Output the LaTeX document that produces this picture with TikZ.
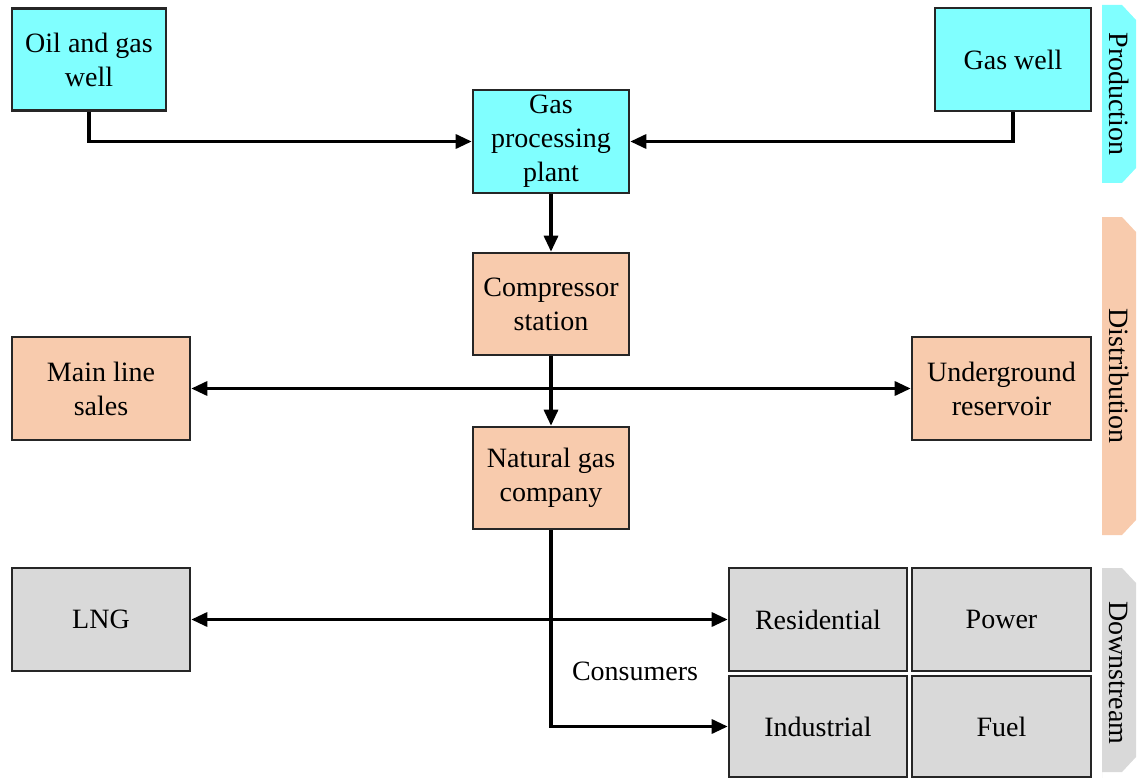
\documentclass[tikz,border=0pt]{standalone}
\usepackage{fontspec}
\setmainfont{Liberation Serif}
\usetikzlibrary{arrows.meta}
\definecolor{prodcol}{HTML}{80FFFF}
\definecolor{distcol}{HTML}{F8CBAD}
\definecolor{downcol}{HTML}{D9D9D9}
\definecolor{edgecol}{HTML}{262626}
\begin{document}
\begin{tikzpicture}[x=1pt,y=-1pt,
  font=\fontsize{28}{34}\selectfont,
  box/.style={draw=edgecol,line width=2.6pt,inner sep=0pt,align=center},
  prodbox/.style={box,fill=prodcol},
  distbox/.style={box,fill=distcol},
  downbox/.style={box,fill=downcol},
  conn/.style={line width=3.2pt,black,-{Triangle[length=16pt,width=14pt]}},
  bconn/.style={line width=3.2pt,black,{Triangle[length=16pt,width=14pt]}-{Triangle[length=16pt,width=14pt]}},
  tablabel/.style={rotate=-90,inner sep=0pt}]
\useasboundingbox (0,0) rectangle (1137,778);

% stage tabs on the right
\fill[prodcol] (1102,5) -- (1122,5) -- (1136,20) -- (1136,168) -- (1122,183) -- (1102,183) -- cycle;
\fill[distcol] (1102,217) -- (1122,217) -- (1136,232) -- (1136,520) -- (1122,535) -- (1102,535) -- cycle;
\fill[downcol] (1102,568) -- (1122,568) -- (1136,583) -- (1136,757) -- (1122,772) -- (1102,772) -- (1102,778) -- cycle;
\node[tablabel] (tprod) at (1119,94) {Production};
\node[tablabel] (tdist) at (1119,376) {Distribution};
\node[tablabel] (tdown) at (1119,673) {Downstream};

% production
\node[prodbox,minimum width=154pt,minimum height=102pt] (oil) at (89,59.5) {Oil and gas\\well};
\node[prodbox,minimum width=156pt,minimum height=103pt] (gw) at (1013,59.5) {Gas well};
\node[prodbox,minimum width=156pt,minimum height=103pt] (gpp) at (551,141.5) {Gas\\processing\\plant};

% distribution
\node[distbox,minimum width=156pt,minimum height=102pt] (comp) at (551,304) {Compressor\\station};
\node[distbox,minimum width=156pt,minimum height=102pt] (ngc) at (551,478) {Natural gas\\company};
\node[distbox,minimum width=178pt,minimum height=103pt] (mls) at (101,388.5) {Main line\\sales};
\node[distbox,minimum width=179pt,minimum height=103pt] (ur) at (1001.5,388.5) {Underground\\reservoir};

% downstream
\node[downbox,minimum width=178pt,minimum height=103pt] (lng) at (101,619.5) {LNG};
\node[downbox,minimum width=178pt,minimum height=103pt] (res) at (818,619.5) {Residential};
\node[downbox,minimum width=179pt,minimum height=103pt] (pow) at (1001.5,619.5) {Power};
\node[downbox,minimum width=178pt,minimum height=101pt] (ind) at (818,726.5) {Industrial};
\node[downbox,minimum width=179pt,minimum height=101pt] (fuel) at (1001.5,726.5) {Fuel};
\node (cons) at (635,671) {Consumers};

% flows
\draw[conn] (oil.south) |- (gpp.west);
\draw[conn] (gw.south) |- (gpp.east);
\draw[conn] (gpp) -- (comp);
\draw[bconn] (mls.east) -- (ur.west);
\draw[conn] (comp) -- (ngc);
\draw[bconn] (lng.east) -- (res.west);
\draw[conn] (ngc.south) |- (ind.west);
\end{tikzpicture}
\end{document}
